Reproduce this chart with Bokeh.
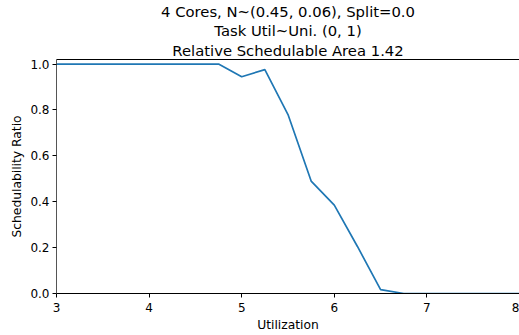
from bokeh.plotting import figure
from bokeh.models import Title, LinearAxis, Range1d, CustomJSTickFormatter, FixedTicker
from bokeh.embed import file_html
from bokeh.resources import INLINE

utilization = [3.0, 3.25, 3.5, 3.75, 4.0, 4.25, 4.5, 4.75, 5.0, 5.25, 5.5, 5.75,
               6.0, 6.25, 6.5, 6.75, 7.0, 7.25, 7.5, 7.75, 8.0]
sched_ratio = [1.0, 1.0, 1.0, 1.0, 1.0, 1.0, 1.0, 1.0, 0.945, 0.976, 0.78, 0.49,
               0.385, 0.205, 0.017, 0.0, 0.0, 0.0, 0.0, 0.0, 0.0]
title_lines = ["4 Cores, N~(0.45, 0.06), Split=0.0",
               "Task Util~Uni. (0, 1)",
               "Relative Schedulable Area 1.42"]
x_ticks = [3, 4, 5, 6, 7, 8]
y_ticks = [0.0, 0.2, 0.4, 0.6, 0.8, 1.0]

FONT = "DejaVu Sans"

p = figure(width=519, height=335, output_backend="svg", toolbar_location=None,
           x_range=Range1d(3, 8), y_range=Range1d(0, 1.02),
           min_border_left=56, min_border_right=0, min_border_top=4, min_border_bottom=42)
p.background_fill_color = "white"
p.border_fill_color = "white"
p.outline_line_color = None
p.grid.visible = False

# top spine (closest to frame)
top = LinearAxis(ticker=FixedTicker(ticks=[]), major_tick_line_color=None,
                 minor_tick_line_color=None, major_label_text_font_size="0px",
                 axis_line_color="black", axis_line_width=1)
p.add_layout(top, "above")

for i, t in enumerate(reversed(title_lines)):
    p.add_layout(Title(text=t, align="center", text_font=FONT, text_font_size="14.8px",
                       text_font_style="normal", text_color="black",
                       offset=0, standoff=2 if i == 0 else 0), "above")

xax = p.below[0]
yax = p.left[0]
for ax in (xax, yax):
    ax.axis_line_color = "black"
    ax.major_tick_line_color = "black"
    ax.minor_tick_line_color = None
    ax.major_tick_out = 4
    ax.major_tick_in = 0
    ax.major_label_text_font = FONT
    ax.major_label_text_font_size = "12px"
    ax.major_label_text_color = "black"
    ax.axis_label_text_font = FONT
    ax.axis_label_text_font_size = "12.3px"
    ax.axis_label_text_font_style = "normal"
    ax.axis_label_text_color = "black"

xax.major_label_standoff = 5
xax.axis_label_standoff = 3
yax.major_label_standoff = 3
yax.axis_label_standoff = 3

yax.axis_line_color = "#555555"
xax.axis_label = "Utilization"
yax.axis_label = "Schedulability Ratio"
xax.ticker = FixedTicker(ticks=x_ticks)
yax.ticker = FixedTicker(ticks=y_ticks)
yax.formatter = CustomJSTickFormatter(code="return tick.toFixed(1);")

p.line(utilization, sched_ratio, line_color="#1f77b4", line_width=1.7)

open("out.html", "w").write(file_html(p, INLINE))
